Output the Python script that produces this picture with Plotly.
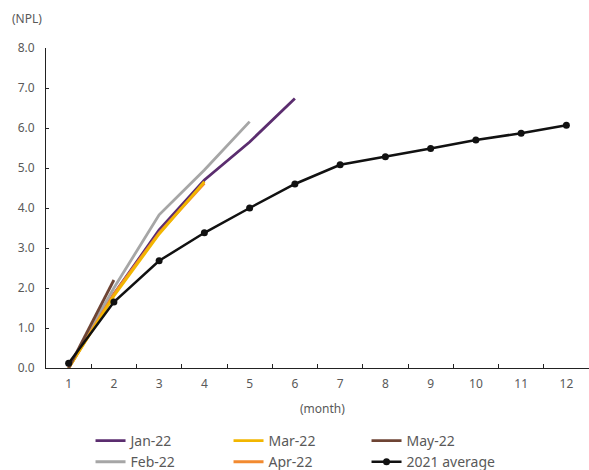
import plotly.graph_objects as go

months = [str(m) for m in range(1, 13)]

jan_22 = [0.0, 1.85, 3.45, 4.7, 5.65, 6.74]
feb_22 = [0.0, 2.0, 3.83, 4.95, 6.16]
mar_22 = [0.0, 1.8, 3.35, 4.66]
apr_22 = [0.0, 1.85, 3.38, 4.62]
may_22 = [0.0, 2.2]
avg_2021 = [0.12, 1.65, 2.68, 3.38, 4.0, 4.6, 5.08, 5.28, 5.49, 5.7, 5.87, 6.07]

y_ticks = [0, 1, 2, 3, 4, 5, 6, 7, 8]
y_tick_text = [f"{v:.1f}" for v in y_ticks]

FONT = "Noto Sans"
TXT = "#595959"

series = [
    ("Jan-22", jan_22, "#5b2d6f", 1),
    ("Feb-22", feb_22, "#a6a6a6", 4),
    ("Apr-22", apr_22, "#f28a30", 5),
    ("Mar-22", mar_22, "#f2b600", 2),
    ("May-22", may_22, "#6e4434", 3),
]

fig = go.Figure()
for name, vals, color, rank in series:
    fig.add_trace(go.Scatter(
        x=months[:len(vals)], y=vals, name=name, mode="lines",
        line=dict(color=color, width=2.8), legendrank=rank,
    ))

fig.add_trace(go.Scatter(
    x=months, y=avg_2021, name="2021 average", mode="lines+markers",
    line=dict(color="#111111", width=2.5),
    marker=dict(color="#111111", size=7, symbol="circle"),
    legendrank=6,
))

fig.update_layout(
    width=589, height=470,
    margin=dict(l=46, r=0, t=48, b=102, autoexpand=False),
    plot_bgcolor="white", paper_bgcolor="white",
    font=dict(family=FONT, size=12, color=TXT),
    showlegend=True,
    legend=dict(
        orientation="h", x=0.082, y=-0.178, xanchor="left", yanchor="top",
        xref="paper", yref="paper",
        entrywidth=93, entrywidthmode="pixels",
        font=dict(family=FONT, size=14, color=TXT),
        itemwidth=30,
    ),
    xaxis=dict(
        type="category", categoryorder="array", categoryarray=months,
        showline=True, linecolor="#222222", linewidth=1,
        ticks="inside", ticklen=4, tickcolor="#222222", tickson="boundaries",
        showgrid=False, zeroline=False, ticklabelstandoff=5,
        tickfont=dict(family=FONT, size=12, color=TXT),
        range=[-0.5, 11.5],
    ),
    yaxis=dict(
        range=[0, 8], tickvals=y_ticks, ticktext=y_tick_text,
        showline=True, linecolor="#222222", linewidth=1,
        ticks="inside", ticklen=3, tickcolor="#222222",
        showgrid=False, zeroline=False, ticklabelstandoff=8,
        tickfont=dict(family=FONT, size=12, color=TXT),
    ),
    annotations=[
        dict(text="(NPL)", x=-0.035, y=1.0, yshift=30, xref="paper", yref="paper",
             xanchor="center", yanchor="middle", showarrow=False,
             font=dict(family=FONT, size=12, color=TXT)),
        dict(text="(month)", x=0.51, y=-0.128, xref="paper", yref="paper",
             xanchor="center", yanchor="middle", showarrow=False,
             font=dict(family=FONT, size=12, color=TXT)),
    ],
)

fig.write_html("out.html")
